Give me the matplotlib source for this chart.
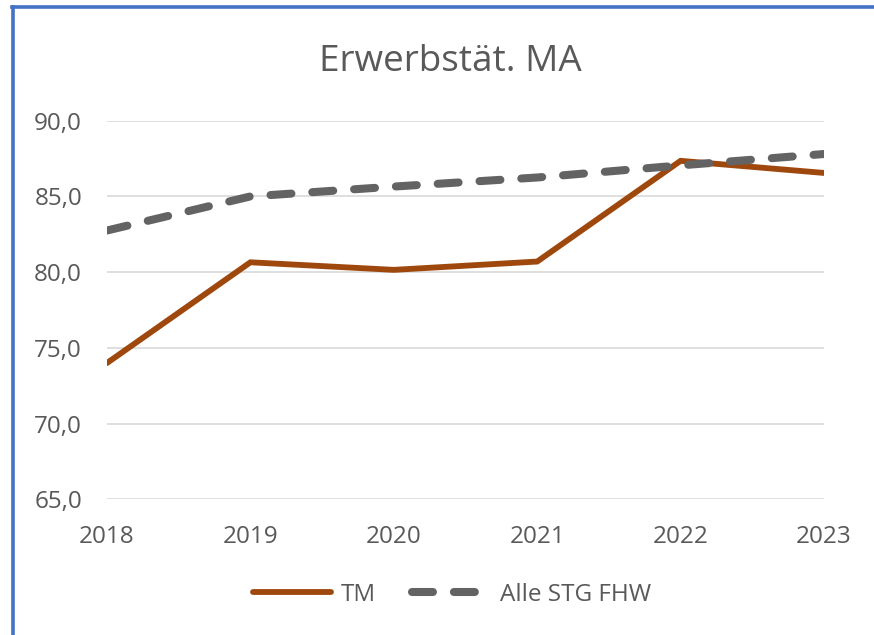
import matplotlib
matplotlib.use("Agg")
import matplotlib.pyplot as plt
from matplotlib.lines import Line2D
from matplotlib.ticker import FuncFormatter, FixedLocator

years = [2018, 2019, 2020, 2021, 2022, 2023]
tm_values = [74.0, 80.65, 80.15, 80.7, 87.35, 86.55]
alle_values = [82.75, 85.0, 85.65, 86.25, 87.05, 87.8]
yticks = [65, 70, 75, 80, 85, 90]
title = "Erwerbstät. MA"
series_names = ["TM", "Alle STG FHW"]

TEXT = "#595959"
plt.rcParams['font.family'] = ['Open Sans', 'DejaVu Sans']

fig = plt.figure(figsize=(8.74, 6.35), dpi=100)
fig.patch.set_facecolor("white")
ax = fig.add_axes([107/874, 1-499.3/635, 717/874, 378.6/635])

l1, = ax.plot(years, tm_values, color="#9E480E", lw=4.2, solid_capstyle="round",
              solid_joinstyle="miter", label=series_names[0], zorder=3)
l2, = ax.plot(years, alle_values, color="#636363", lw=5.8, dash_capstyle="round",
              label=series_names[1], zorder=4)
l2.set_dashes([2.6, 2.6])

ax.set_xlim(years[0], years[-1])
ax.set_ylim(yticks[0], yticks[-1])
ax.yaxis.set_major_locator(FixedLocator(yticks))
ax.xaxis.set_major_locator(FixedLocator(years))
ax.yaxis.set_major_formatter(FuncFormatter(lambda v, p: f"{v:.1f}".replace(".", ",")))
ax.grid(axis="y", color="#D9D9D9", lw=1.2, zorder=0)
for s in ax.spines.values():
    s.set_visible(False)
ax.tick_params(axis="both", length=0, labelsize=17.5, colors=TEXT)
ax.tick_params(axis="y", pad=18)
ax.tick_params(axis="x", pad=18.5)

fig.text(450/874, 1-62/635, title, ha="center", va="center", fontsize=26.6, color=TEXT)

leg = fig.legend(handles=[l1, l2], loc="center", bbox_to_anchor=(452/874, 1-595/635),
                 ncol=2, frameon=False, fontsize=17.5, handlelength=3.2,
                 handletextpad=0.4, columnspacing=1.5, labelcolor=TEXT)

# blue frame (top and left edges)
fig.add_artist(Line2D([12/874, 1], [1-7/635, 1-7/635], color="#4472C4", lw=2.6,
                      transform=fig.transFigure))
fig.add_artist(Line2D([13/874, 13/874], [0, 1-7/635], color="#4472C4", lw=2.6,
                      transform=fig.transFigure))

fig.savefig("out.png", dpi=100, facecolor="white")
